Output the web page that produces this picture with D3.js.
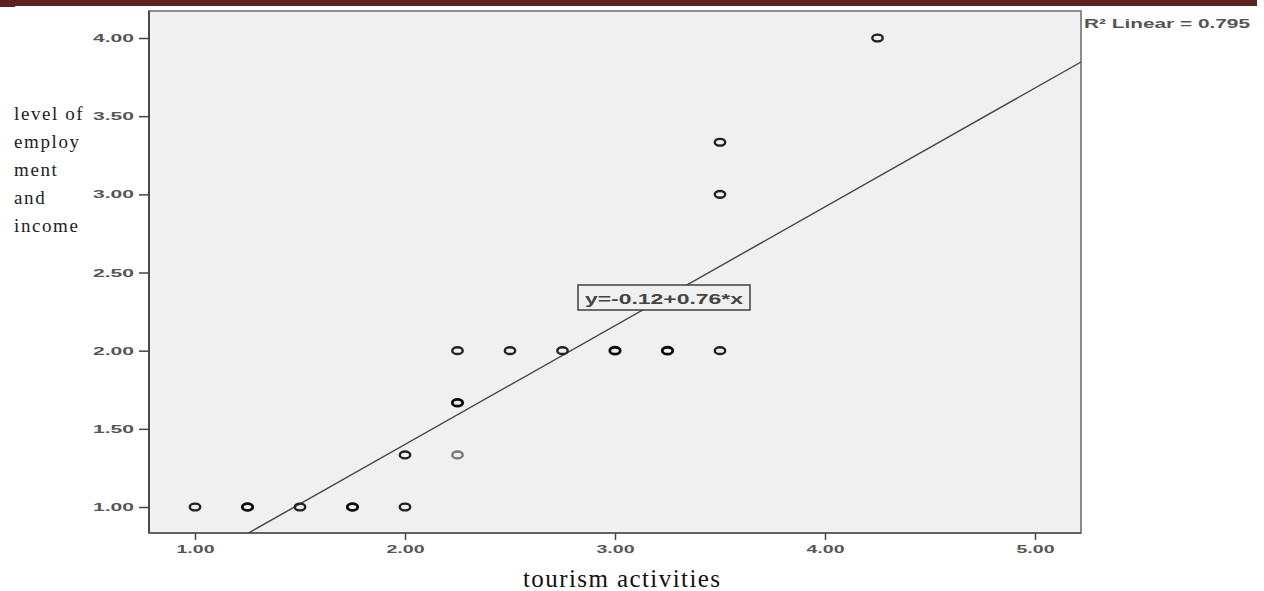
<!DOCTYPE html>
<html><head><meta charset="utf-8">
<script src="https://cdn.jsdelivr.net/npm/d3@7"></script>
<style>body{margin:0;background:#fff;}svg{display:block;}</style>
</head><body>
<svg id="c" width="1264" height="591"></svg>
<script>
// ---- data ----
const tourism = [1.00, 1.25, 1.50, 1.75, 2.00, 2.00, 2.25, 2.25, 2.25, 2.50, 2.75, 3.00, 3.25, 3.50, 3.50, 3.50, 4.25];
const employment = [1.00, 1.00, 1.00, 1.00, 1.00, 1.333, 1.333, 1.667, 2.00, 2.00, 2.00, 2.00, 2.00, 2.00, 3.00, 3.333, 4.00];
const frequency = [2, 3, 2, 3, 2, 2, 1, 3, 2, 2, 2, 3, 3, 2, 2, 2, 2];
const xTicks = [1, 2, 3, 4, 5];
const yTicks = [1.0, 1.5, 2.0, 2.5, 3.0, 3.5, 4.0];
const intercept = -0.12, slope = 0.76;
const r2Label = "R\u00B2 Linear = 0.795";
const eqLabel = "y=-0.12+0.76*x";
const xTitle = "tourism activities";
const yTitleLines = ["level of", "employ", "ment", "and", "income"];

const svg = d3.select("#c");
const L = 149, R = 1081, T = 11, B = 533;
const x = d3.scaleLinear().domain([1, 5]).range([195, 1035]);
const y = d3.scaleLinear().domain([1, 4]).range([507, 38]);
const sans = "Arial, 'Liberation Sans', sans-serif";
const serif = "'Liberation Serif', 'Times New Roman', serif";

// top bar
svg.append("rect").attr("x", 0).attr("y", 0).attr("width", 1257).attr("height", 6).attr("fill", "#5e2120");
svg.append("rect").attr("x", 0).attr("y", 0).attr("width", 15).attr("height", 7).attr("fill", "#5e2120");

// plot area
svg.append("rect").attr("x", L).attr("y", T).attr("width", R - L).attr("height", B - T)
  .attr("fill", "#f0f0f0").attr("stroke", "#8c8c8c").attr("stroke-width", 2);
svg.append("line").attr("x1", L).attr("x2", L).attr("y1", T).attr("y2", B).attr("stroke", "#333").attr("stroke-width", 1.5);
svg.append("line").attr("x1", L).attr("x2", R).attr("y1", B).attr("y2", B).attr("stroke", "#555").attr("stroke-width", 1.5);

// axes
const yAxis = d3.axisLeft(y).tickValues(yTicks).tickFormat(d3.format(".2f")).tickSize(10).tickPadding(5);
const gy = svg.append("g").attr("transform", `translate(${L},0)`).call(yAxis);
gy.select(".domain").remove();
gy.selectAll("line").attr("stroke", "#444").attr("stroke-width", 1.5);
gy.selectAll("text").attr("font-family", sans).attr("font-size", 11).attr("font-weight", "bold")
  .attr("fill", "#555").attr("textLength", 41).attr("lengthAdjust", "spacingAndGlyphs");

const xAxis = d3.axisBottom(x).tickValues(xTicks).tickFormat(d3.format(".2f")).tickSize(7).tickPadding(5);
const gx = svg.append("g").attr("transform", `translate(0,${B})`).call(xAxis);
gx.select(".domain").remove();
gx.selectAll("line").attr("stroke", "#444").attr("stroke-width", 1.5);
gx.selectAll("text").attr("font-family", sans).attr("font-size", 11).attr("font-weight", "bold")
  .attr("fill", "#555").attr("textLength", 38).attr("lengthAdjust", "spacingAndGlyphs");

// clip
svg.append("clipPath").attr("id", "clip").append("rect").attr("x", L).attr("y", T).attr("width", R - L).attr("height", B - T);

// regression line
const xr0 = x.invert(L), xr1 = x.invert(R);
svg.append("line").attr("clip-path", "url(#clip)")
  .attr("x1", x(xr0)).attr("y1", y(intercept + slope * xr0))
  .attr("x2", x(xr1)).attr("y2", y(intercept + slope * xr1))
  .attr("stroke", "#444").attr("stroke-width", 1.4);

// points
const pts = tourism.map((t, i) => ({ t, e: employment[i], n: frequency[i] }));
svg.append("g").selectAll("ellipse").data(pts).join("ellipse")
  .attr("cx", d => x(d.t)).attr("cy", d => y(d.e))
  .attr("rx", 5.2).attr("ry", 3.4)
  .attr("fill", "none")
  .attr("stroke", d => d.n === 1 ? "#777" : (d.n === 2 ? "#222" : "#0a0a0a"))
  .attr("stroke-width", d => d.n === 3 ? 2.8 : 2.4);

// equation box
svg.append("rect").attr("x", 578).attr("y", 285).attr("width", 172).attr("height", 25)
  .attr("fill", "#f0f0f0").attr("stroke", "#333").attr("stroke-width", 1.4);
svg.append("text").attr("x", 585).attr("y", 304)
  .attr("font-family", sans).attr("font-size", 15).attr("font-weight", "bold")
  .attr("fill", "#444").attr("textLength", 158).attr("lengthAdjust", "spacingAndGlyphs").text(eqLabel);

// R2 label
svg.append("text").attr("x", 1084).attr("y", 28)
  .attr("font-family", sans).attr("font-size", 13).attr("font-weight", "bold")
  .attr("fill", "#555").attr("textLength", 166).attr("lengthAdjust", "spacingAndGlyphs").text(r2Label);

// axis titles
svg.append("text").attr("x", 523).attr("y", 587)
  .attr("font-family", serif).attr("font-size", 25)
  .attr("fill", "#111").attr("textLength", 197).attr("lengthAdjust", "spacing").text(xTitle);
svg.append("g").selectAll("text").data(yTitleLines).join("text")
  .attr("x", 14).attr("y", (d, i) => 120 + i * 28)
  .attr("font-family", serif).attr("font-size", 19)
  .attr("fill", "#222").attr("letter-spacing", "1.6px").text(d => d);
</script>
</body></html>
